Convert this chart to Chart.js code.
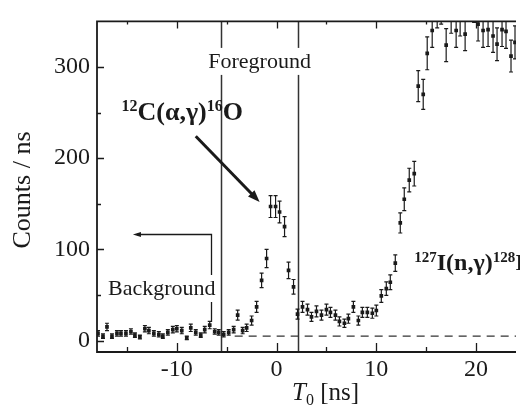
<!DOCTYPE html>
<html>
<head>
<meta charset="utf-8">
<script src="https://cdn.jsdelivr.net/npm/chart.js@4.4.1/dist/chart.umd.min.js"></script>
<style>
  html, body { margin: 0; padding: 0; background: #fff; }
  #wrap { width: 520px; height: 410px; }
</style>
</head>
<body>
<div id="wrap"><canvas id="myChart" width="520" height="410"></canvas></div>
<script>
// T0 bins [ns]
const times = [
  -17.9, -17.4, -17.0, -16.5, -16.0, -15.6, -15.1, -14.6, -14.2, -13.7,
  -13.2, -12.8, -12.3, -11.8, -11.4, -10.9, -10.4, -10.0, -9.5, -9.0,
  -8.6, -8.1, -7.6, -7.2, -6.7, -6.2, -5.8, -5.3, -4.8, -4.3,
  -3.9, -3.4, -3.0, -2.5, -2.0, -1.5, -1.0, -0.6, -0.1,
  0.3, 0.8, 1.2, 1.7, 2.1, 2.6, 3.1, 3.5, 4.0, 4.5,
  5.0, 5.4, 5.9, 6.3, 6.8, 7.2, 7.7, 8.2, 8.6, 9.1,
  9.6, 10.0, 10.5, 11.0, 11.4, 11.9, 12.4, 12.8, 13.3, 13.8,
  14.2, 14.7, 15.1, 15.6, 16.1, 16.5, 17.0, 17.5, 18.0, 18.4,
  18.9, 19.4, 19.8, 20.2, 20.7, 21.2, 21.7, 22.1, 22.6, 23.0,
  23.5, 23.9
];
// counts / ns
const counts = [
  8, 5, 15, 5, 8, 8, 8, 10, 6, 4,
  13, 11, 8, 7, 5, 9, 12, 13, 11, 3,
  14, 9, 6, 12, 17, 10, 9, 7, 9, 12,
  28, 11, 14, 22, 37, 66, 90, 147, 147,
  141, 125, 77, 59, 29, 37, 34, 26, 32, 28,
  34, 31, 28, 21, 19, 24, 37, 22, 31, 31,
  30, 33, 49, 57, 64, 85, 129, 155, 176, 183,
  279, 270, 315, 340, 362, 366, 324, 356, 340, 353,
  336, 372, 368, 347, 340, 341, 334, 325, 341, 339,
  312, 327
];
// error bar half-lengths
const errors = [
  3, 2.5, 4, 2.5, 3, 3, 3, 3, 2.5, 2,
  3.5, 3.5, 3, 3, 2.5, 3, 3.5, 3.5, 3.5, 2,
  4, 3, 2.5, 3.5, 4, 3, 3, 3, 3, 3.5,
  5.5, 3.5, 4, 5, 6, 8, 10, 12, 12,
  12, 11, 9, 8, 5.5, 6, 6, 5, 6, 5.5,
  6, 5.5, 5.5, 5, 4.5, 5, 6, 5, 5.5, 5.5,
  5.5, 6, 7, 7.5, 8, 9, 11, 12.5, 13, 13.5,
  17, 16.5, 18, 18.5, 19, 19, 18, 19, 18.5, 19,
  18, 19, 19, 18.5, 18.5, 18.5, 18, 18, 18.5, 18.5,
  17.5, 18
];

const xTicks = [-10, 0, 10, 20];
const xMinor = [-15, -5, 5, 15];
const yTicks = [0, 100, 200, 300];
const yMinor = [50, 150, 250];
const bgLevel = 5;
const windowEdges = [-5.6, 2.1];

const serif = '"Liberation Serif", "DejaVu Serif", serif';
const ink = '#1a1a1a';

Chart.defaults.font.family = serif;
Chart.defaults.color = ink;

function rich(ctx, parts, x0, base, size, supSize, weight) {
  let x = x0;
  parts.forEach(([txt, sup]) => {
    ctx.font = `${weight} ${sup ? supSize : size}px ${serif}`;
    ctx.fillText(txt, x, sup ? base - size * 0.36 : base);
    x += ctx.measureText(txt).width;
  });
  return x - x0;
}

function boxedText(ctx, txt, cx, base, font) {
  ctx.font = font;
  const w = ctx.measureText(txt).width;
  ctx.fillStyle = '#fff';
  ctx.fillRect(cx - w / 2 - 2, base - 20, w + 4, 27);
  ctx.fillStyle = ink;
  ctx.textAlign = 'center';
  ctx.fillText(txt, cx, base);
  ctx.textAlign = 'left';
}

const errorBars = {
  id: 'errorBars',
  beforeDatasetsDraw(chart) {
    const { ctx, chartArea: a, scales: { x, y } } = chart;
    ctx.save();
    ctx.beginPath();
    ctx.rect(a.left, a.top, a.right - a.left, a.bottom - a.top);
    ctx.clip();

    // window edges and background level
    ctx.strokeStyle = '#333';
    ctx.lineWidth = 1.5;
    windowEdges.forEach(t => {
      const px = Math.round(x.getPixelForValue(t)) + 0.5;
      ctx.beginPath(); ctx.moveTo(px, a.top); ctx.lineTo(px, a.bottom); ctx.stroke();
    });
    ctx.setLineDash([8, 6]);
    ctx.lineWidth = 1.3;
    const by = y.getPixelForValue(bgLevel);
    ctx.beginPath(); ctx.moveTo(x.getPixelForValue(-4.2), by); ctx.lineTo(a.right, by); ctx.stroke();
    ctx.setLineDash([]);

    ctx.strokeStyle = ink;
    ctx.lineWidth = 1.2;
    times.forEach((t, i) => {
      const cx = x.getPixelForValue(t);
      const y1 = y.getPixelForValue(counts[i] - errors[i]);
      const y2 = y.getPixelForValue(counts[i] + errors[i]);
      ctx.beginPath();
      ctx.moveTo(cx, y1); ctx.lineTo(cx, y2);
      ctx.moveTo(cx - 2, y1); ctx.lineTo(cx + 2, y1);
      ctx.moveTo(cx - 2, y2); ctx.lineTo(cx + 2, y2);
      ctx.stroke();
    });
    ctx.restore();
  },
  afterDraw(chart) {
    const { ctx, chartArea: a, scales: { x, y } } = chart;
    const px = v => x.getPixelForValue(v), py = v => y.getPixelForValue(v);
    ctx.save();
    ctx.fillStyle = ink;
    ctx.strokeStyle = ink;

    // labels with white boxes
    boxedText(ctx, 'Foreground', px(-1.7), py(299), `22px ${serif}`);

    // background bracket arrow
    ctx.lineWidth = 1.3;
    const bx = Math.round(px(-6.6)) + 0.5, bTop = Math.round(py(116.5)) + 0.5;
    ctx.beginPath();
    ctx.moveTo(px(-14.0), bTop); ctx.lineTo(bx, bTop); ctx.lineTo(bx, py(20.5));
    ctx.stroke();
    const ax = px(-14.4);
    ctx.beginPath();
    ctx.moveTo(ax, bTop); ctx.lineTo(ax + 8, bTop - 2.5); ctx.lineTo(ax + 8, bTop + 2.5);
    ctx.closePath(); ctx.fill();
    boxedText(ctx, 'Background', px(-11.5), py(50), `22px ${serif}`);

    // 12C(a,g)16O label and arrow
    rich(ctx, [['12', true], ['C(α,γ)', false], ['16', true], ['O', false]],
      px(-15.55), py(242), 26, 16, 'bold');
    const x1 = px(-8.1), y1 = py(224), x2 = px(-1.7), y2 = py(152);
    const ang = Math.atan2(y2 - y1, x2 - x1);
    ctx.lineWidth = 3;
    ctx.beginPath();
    ctx.moveTo(x1, y1);
    ctx.lineTo(x2 - 8 * Math.cos(ang), y2 - 8 * Math.sin(ang));
    ctx.stroke();
    ctx.save();
    ctx.translate(x2, y2); ctx.rotate(ang);
    ctx.beginPath();
    ctx.moveTo(0, 0); ctx.lineTo(-12, -4.5); ctx.lineTo(-12, 4.5);
    ctx.closePath(); ctx.fill();
    ctx.restore();

    // 127I(n,g)128I label
    rich(ctx, [['127', true], ['I(n,γ)', false], ['128', true], ['I', false]],
      px(13.8), py(77), 24, 15, 'bold');

    // axes frame
    ctx.lineWidth = 1.8;
    ctx.beginPath();
    ctx.moveTo(a.right, a.top); ctx.lineTo(a.left, a.top);
    ctx.lineTo(a.left, a.bottom); ctx.lineTo(a.right, a.bottom);
    ctx.stroke();
    ctx.lineWidth = 1.3;
    ctx.beginPath();
    xTicks.forEach(v => {
      const p = Math.round(px(v)) + 0.5;
      ctx.moveTo(p, a.bottom); ctx.lineTo(p, a.bottom - 9);
      ctx.moveTo(p, a.top); ctx.lineTo(p, a.top + 7);
    });
    xMinor.forEach(v => {
      const p = Math.round(px(v)) + 0.5;
      ctx.moveTo(p, a.bottom); ctx.lineTo(p, a.bottom - 5);
      ctx.moveTo(p, a.top); ctx.lineTo(p, a.top + 3);
    });
    yTicks.forEach(v => {
      const p = Math.round(py(v)) + 0.5;
      ctx.moveTo(a.left, p); ctx.lineTo(a.left + 7, p);
    });
    yMinor.forEach(v => {
      const p = Math.round(py(v)) + 0.5;
      ctx.moveTo(a.left, p); ctx.lineTo(a.left + 4, p);
    });
    ctx.stroke();

    // axis titles
    ctx.save();
    ctx.translate(23, 190);
    ctx.rotate(-Math.PI / 2);
    ctx.font = `26px ${serif}`;
    ctx.textAlign = 'center';
    ctx.textBaseline = 'middle';
    ctx.fillText('Counts / ns', 0, 0);
    ctx.restore();

    let tx = 292;
    const tb = a.bottom + 48;
    ctx.font = `italic 25px ${serif}`;
    ctx.fillText('T', tx, tb);
    tx += ctx.measureText('T').width;
    ctx.font = `16px ${serif}`;
    ctx.fillText('0', tx, tb + 5);
    tx += ctx.measureText('0').width;
    ctx.font = `25px ${serif}`;
    ctx.fillText(' [ns]', tx, tb);
    ctx.restore();
  }
};

const ctx = document.getElementById('myChart').getContext('2d');
new Chart(ctx, {
  type: 'scatter',
  data: {
    datasets: [{
      label: 'Counts',
      data: times.map((t, i) => ({ x: t, y: counts[i] })),
      pointStyle: 'rect',
      pointRadius: 2.6,
      backgroundColor: ink,
      borderWidth: 0
    }]
  },
  options: {
    responsive: false,
    animation: false,
    layout: { padding: { top: 12, right: 0, left: 0, bottom: 0 } },
    plugins: { legend: { display: false }, tooltip: { enabled: false } },
    scales: {
      x: {
        type: 'linear',
        min: -18,
        max: 24,
        grid: { display: false, drawTicks: false },
        border: { display: false },
        afterBuildTicks: s => { s.ticks = xTicks.map(v => ({ value: v })); },
        afterFit: s => { s.height = 58; },
        ticks: { font: { size: 24 }, color: ink, padding: 3, maxRotation: 0 }
      },
      y: {
        type: 'linear',
        min: -12.5,
        max: 350,
        grid: { display: false, drawTicks: false },
        border: { display: false },
        afterBuildTicks: s => { s.ticks = yTicks.map(v => ({ value: v })); },
        afterFit: s => { s.width = 97; },
        ticks: { font: { size: 24 }, color: ink, padding: 7 }
      }
    }
  },
  plugins: [errorBars]
});
</script>
</body>
</html>
